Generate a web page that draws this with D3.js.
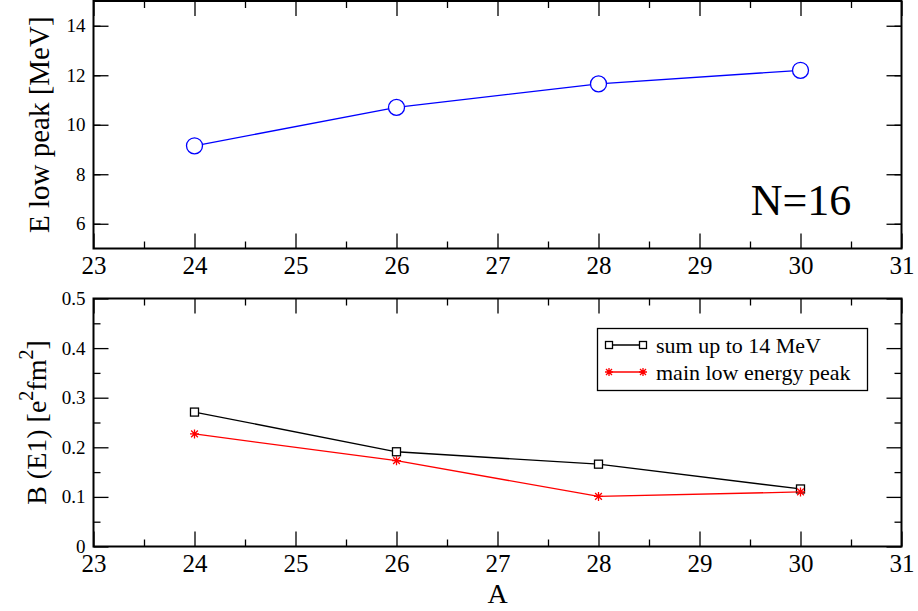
<!DOCTYPE html>
<html>
<head>
<meta charset="utf-8">
<script src="https://cdn.jsdelivr.net/npm/d3@7"></script>
<style>
  body { margin: 0; background: #fff; }
  svg { display: block; font-family: "Liberation Serif", "Times New Roman", serif; }
  svg text { font-family: "Liberation Serif", "Times New Roman", serif !important; }
</style>
</head>
<body>
<div id="chart"></div>
<script>
// values
var massNumbers = [24, 26, 28, 30];
var lowPeakEnergy = [9.15, 10.7, 11.65, 12.2];
var sumUpTo14 = [0.271, 0.191, 0.166, 0.116];
var mainLowPeak = [0.227, 0.173, 0.101, 0.110];
var xTicks = [23, 24, 25, 26, 27, 28, 29, 30, 31];
var topYTicks = [6, 8, 10, 12, 14];
var botYTicks = [0, 0.1, 0.2, 0.3, 0.4, 0.5];
var legendLabels = ["sum up to 14 MeV", "main low energy peak"];

var width = 918, height = 611;
var svg = d3.select("#chart").append("svg")
    .attr("width", width)
    .attr("height", height);

var left = 93.5, right = 901.5;
var x = d3.scaleLinear().domain([23, 31]).range([left, right]);
var yTop = d3.scaleLinear().domain([5, 15]).range([248.5, 1]);
var yBot = d3.scaleLinear().domain([0, 0.5]).range([546.5, 298.5]);

var major = 15, minor = 7;

function drawPanel(y, yTicks, yFmt, ySub) {
    var g = svg.append("g");
    var y0 = y.range()[0], y1 = y.range()[1];
    var xMinor = d3.range(23.5, 31, 1);
    var yMinor = d3.range(y.domain()[0] + ySub, y.domain()[1], ySub * 2);

    // bottom axis with labels
    g.append("g")
        .attr("transform", `translate(0,${y0})`)
        .call(d3.axisBottom(x).tickValues(xTicks).tickSize(-major).tickPadding(8).tickFormat(d3.format("d")))
        .call(a => a.selectAll("text").style("font-size", "25px").attr("dy", "0.71em"));
    g.append("g")
        .attr("transform", `translate(0,${y0})`)
        .call(d3.axisBottom(x).tickValues(xMinor).tickSize(-minor).tickFormat(""));
    // top mirror ticks
    g.append("g")
        .attr("transform", `translate(0,${y1})`)
        .call(d3.axisTop(x).tickValues(xTicks).tickSize(-major).tickFormat(""));
    g.append("g")
        .attr("transform", `translate(0,${y1})`)
        .call(d3.axisTop(x).tickValues(xMinor).tickSize(-minor).tickFormat(""));
    // left axis with labels
    g.append("g")
        .attr("transform", `translate(${left},0)`)
        .call(d3.axisLeft(y).tickValues(yTicks).tickSize(-major).tickPadding(8).tickFormat(yFmt))
        .call(a => a.selectAll("text").style("font-size", "19px"));
    g.append("g")
        .attr("transform", `translate(${left},0)`)
        .call(d3.axisLeft(y).tickValues(yMinor).tickSize(-minor).tickFormat(""));
    // right mirror ticks
    g.append("g")
        .attr("transform", `translate(${right},0)`)
        .call(d3.axisRight(y).tickValues(yTicks).tickSize(-major).tickFormat(""));
    g.append("g")
        .attr("transform", `translate(${right},0)`)
        .call(d3.axisRight(y).tickValues(yMinor).tickSize(-minor).tickFormat(""));

    g.selectAll(".domain").remove();
    g.selectAll(".tick line").attr("stroke", "#000").attr("stroke-width", 1.3);
    g.selectAll(".tick text").attr("fill", "#000");

    g.append("rect")
        .attr("x", left).attr("y", y1)
        .attr("width", right - left).attr("height", y0 - y1)
        .attr("fill", "none").attr("stroke", "#000").attr("stroke-width", 2);
    return g;
}

drawPanel(yTop, topYTicks, d3.format("d"), 1);
drawPanel(yBot, botYTicks, d => d === 0 ? "0" : d3.format(".1f")(d), 0.05);

// top panel: E low peak
var topLine = d3.line().x((d, i) => x(massNumbers[i])).y(d => yTop(d));
svg.append("path")
    .datum(lowPeakEnergy)
    .attr("d", topLine)
    .attr("fill", "none").attr("stroke", "#0000ff").attr("stroke-width", 1.3);
svg.append("g").selectAll("circle")
    .data(lowPeakEnergy)
    .enter().append("circle")
    .attr("cx", (d, i) => x(massNumbers[i]))
    .attr("cy", d => yTop(d))
    .attr("r", 8)
    .attr("fill", "#fff").attr("stroke", "#0000ff").attr("stroke-width", 1.3);

svg.append("text")
    .attr("x", 801).attr("y", 215)
    .attr("text-anchor", "middle")
    .style("font-size", "44px")
    .text("N=16");

// bottom panel
var botLine = d3.line().x((d, i) => x(massNumbers[i])).y(d => yBot(d));

function square(sel, cx, cy, s) {
    sel.append("rect")
        .attr("x", cx - s / 2).attr("y", cy - s / 2)
        .attr("width", s).attr("height", s)
        .attr("fill", "#fff").attr("stroke", "#000").attr("stroke-width", 1.3);
}
function star(sel, cx, cy, s) {
    var r = s / 2, d = r * 0.75;
    sel.append("path")
        .attr("d", `M${cx - r},${cy}H${cx + r}M${cx},${cy - r}V${cy + r}` +
            `M${cx - d},${cy - d}L${cx + d},${cy + d}M${cx - d},${cy + d}L${cx + d},${cy - d}`)
        .attr("stroke", "#ff0000").attr("stroke-width", 1.3).attr("fill", "none");
}

svg.append("path")
    .datum(mainLowPeak)
    .attr("d", botLine)
    .attr("fill", "none").attr("stroke", "#ff0000").attr("stroke-width", 1.3);
svg.append("path")
    .datum(sumUpTo14)
    .attr("d", botLine)
    .attr("fill", "none").attr("stroke", "#000").attr("stroke-width", 1.3);

var marks = svg.append("g");
sumUpTo14.forEach((d, i) => square(marks, x(massNumbers[i]), yBot(d), 8));
mainLowPeak.forEach((d, i) => star(marks, x(massNumbers[i]), yBot(d), 9));

// legend
var leg = svg.append("g");
leg.append("rect")
    .attr("x", 597.5).attr("y", 328.5).attr("width", 270).attr("height", 62)
    .attr("fill", "#fff").attr("stroke", "#000").attr("stroke-width", 1.3);
var legRows = [345, 372];
leg.append("line").attr("x1", 609).attr("x2", 643).attr("y1", legRows[0]).attr("y2", legRows[0])
    .attr("stroke", "#000").attr("stroke-width", 1.3);
square(leg, 609, legRows[0], 7);
square(leg, 643, legRows[0], 7);
leg.append("line").attr("x1", 609).attr("x2", 643).attr("y1", legRows[1]).attr("y2", legRows[1])
    .attr("stroke", "#ff0000").attr("stroke-width", 1.3);
star(leg, 609, legRows[1], 8);
star(leg, 643, legRows[1], 8);
leg.selectAll("text.lab")
    .data(legendLabels)
    .enter().append("text")
    .attr("class", "lab")
    .attr("x", 656)
    .attr("y", (d, i) => legRows[i])
    .attr("dy", "0.35em")
    .style("font-size", "22px")
    .text(d => d);

// axis titles
svg.append("text")
    .attr("transform", `translate(49,${yTop(10)}) rotate(-90)`)
    .attr("text-anchor", "middle")
    .style("font-size", "29px")
    .text("E low peak [MeV]");

var bt = svg.append("text")
    .attr("transform", `translate(46,${yBot(0.25)}) rotate(-90)`)
    .attr("text-anchor", "middle")
    .style("font-size", "28px");
bt.append("tspan").text("B (E1) [e");
bt.append("tspan").attr("dy", -13).style("font-size", "20px").text("2");
bt.append("tspan").attr("dy", 13).text("fm");
bt.append("tspan").attr("dy", -13).style("font-size", "20px").text("2");
bt.append("tspan").attr("dy", 13).text("]");

svg.append("text")
    .attr("x", (left + right) / 2).attr("y", 603)
    .attr("text-anchor", "middle")
    .style("font-size", "28px")
    .text("A");
</script>
</body>
</html>
